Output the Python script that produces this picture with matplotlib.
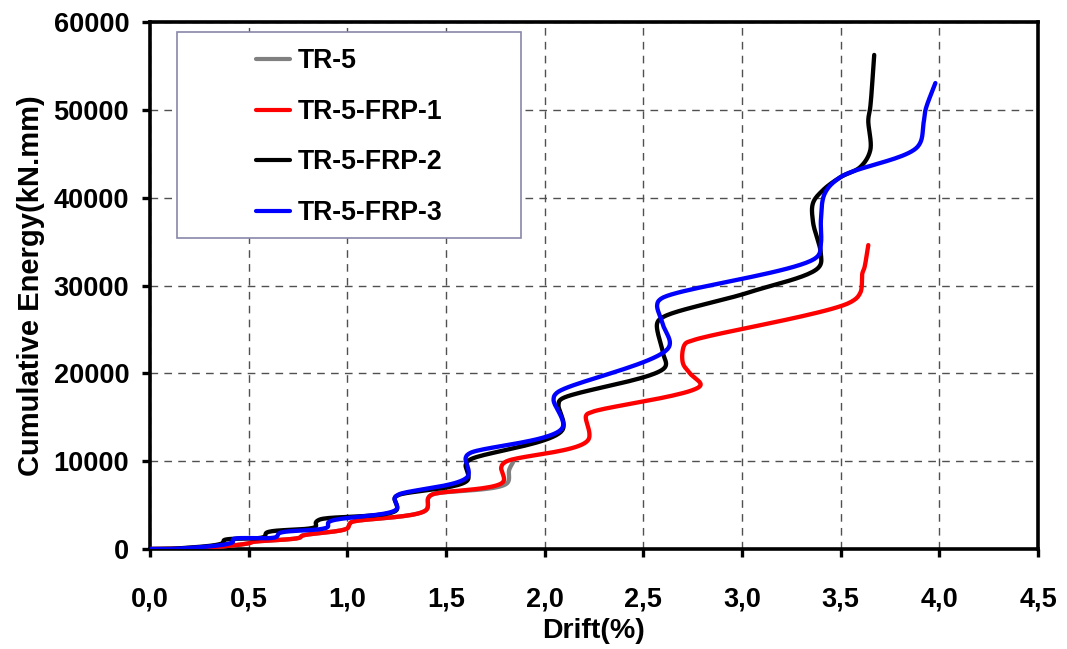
import numpy as np
import matplotlib
matplotlib.use("Agg")
import matplotlib.pyplot as plt
from matplotlib.patches import Rectangle

# Cumulative dissipated energy versus drift for the four specimens
drift_tr5 = [0.00, 0.15, 0.37, 0.50, 0.52, 0.76, 0.77, 1.00, 1.01, 1.02,
             1.40, 1.41, 1.43, 1.81, 1.82, 1.84]
energy_tr5 = [0, 30, 300, 650, 800, 1300, 1500, 2350, 2800, 3050,
              4450, 5800, 6200, 7500, 9000, 9900]

drift_frp1 = [0.00, 0.15, 0.37, 0.50, 0.52, 0.76, 0.77, 1.00, 1.01, 1.02,
              1.40, 1.41, 1.43, 1.79, 1.78, 1.80, 2.22, 2.21, 2.24,
              2.79, 2.74, 2.70, 2.71, 2.75, 3.55, 3.60, 3.61, 3.62, 3.64]
energy_frp1 = [0, 30, 300, 650, 800, 1300, 1500, 2350, 2800, 3050,
               4450, 5800, 6200, 7650, 9300, 9900, 12400, 15200, 15600,
               18650, 19900, 21200, 23300, 23750, 28100, 29200, 31400, 32000, 34600]

drift_frp2 = [0.00, 0.15, 0.37, 0.375, 0.58, 0.59, 0.84, 0.84, 0.86,
              1.25, 1.24, 1.26, 1.61, 1.60, 1.62, 2.09, 2.07, 2.08,
              2.61, 2.60, 2.57, 2.60, 3.04, 3.39, 3.40, 3.36, 3.36, 3.41,
              3.50, 3.60, 3.65, 3.64, 3.65, 3.67]
energy_frp2 = [0, 80, 700, 1000, 1400, 1850, 2550, 3000, 3350,
               4450, 5800, 6150, 7850, 9600, 10150, 13550, 16400, 17000,
               20700, 22300, 25700, 26400, 29250, 32100, 33600, 37200, 39400, 40850,
               42350, 43500, 45400, 48850, 50300, 56250]

drift_frp3 = [0.00, 0.15, 0.42, 0.42, 0.64, 0.655, 0.90, 0.905, 1.25, 1.24,
              1.26, 1.61, 1.60, 1.62, 2.09, 2.045, 2.06, 2.63, 2.60, 2.57,
              2.59, 3.38, 3.40, 3.40, 3.42, 3.50, 3.89, 3.92, 3.93, 3.98]
energy_frp3 = [0, 50, 800, 1100, 1370, 1800, 2500, 3050, 4550, 5800,
               6200, 8250, 10400, 10900, 13800, 17000, 17750, 23000, 25500, 27800,
               28500, 33250, 34800, 37500, 40500, 42350, 45800, 48500, 50000, 53050]

series_names = ["TR-5", "TR-5-FRP-1", "TR-5-FRP-2", "TR-5-FRP-3"]
series_colors = ["#808080", "#ff0000", "#000000", "#0000ff"]

X_MAX, Y_MAX = 4.5, 60000
X_TICKS = np.arange(0, 4.51, 0.5)
Y_TICKS = np.arange(0, 60001, 10000)


def smooth_curve(xs, ys, sx, sy, n=24, alpha=0.5):
    """Centripetal Catmull-Rom through the points, computed in screen-like units."""
    P = np.column_stack([np.asarray(xs, float) * sx, np.asarray(ys, float) * sy])
    P = np.vstack([2 * P[0] - P[1], P, 2 * P[-1] - P[-2]])
    out = []
    eps = 1e-6
    for i in range(1, len(P) - 2):
        p0, p1, p2, p3 = P[i - 1], P[i], P[i + 1], P[i + 2]
        t0 = 0.0
        t1 = t0 + max(np.linalg.norm(p1 - p0), eps) ** alpha
        t2 = t1 + max(np.linalg.norm(p2 - p1), eps) ** alpha
        t3 = t2 + max(np.linalg.norm(p3 - p2), eps) ** alpha
        t = np.linspace(t1, t2, n)[:, None]
        a1 = (t1 - t) / (t1 - t0) * p0 + (t - t0) / (t1 - t0) * p1
        a2 = (t2 - t) / (t2 - t1) * p1 + (t - t1) / (t2 - t1) * p2
        a3 = (t3 - t) / (t3 - t2) * p2 + (t - t2) / (t3 - t2) * p3
        b1 = (t2 - t) / (t2 - t0) * a1 + (t - t0) / (t2 - t0) * a2
        b2 = (t3 - t) / (t3 - t1) * a2 + (t - t1) / (t3 - t1) * a3
        c = (t2 - t) / (t2 - t1) * b1 + (t - t1) / (t2 - t1) * b2
        out.append(c if i == 1 else c[1:])
    C = np.vstack(out)
    return C[:, 0] / sx, C[:, 1] / sy


plt.rcParams["font.family"] = ["Liberation Sans", "DejaVu Sans"]
plt.rcParams["font.weight"] = "bold"

fig = plt.figure(figsize=(10.67, 6.49), dpi=100)
ax = fig.add_axes([150 / 1067, 1 - 549 / 649, 888 / 1067, 527 / 649])

# scale factors so smoothing works in pixel-like units
sx = 888 / X_MAX
sy = 527 / Y_MAX

all_data = [(drift_tr5, energy_tr5), (drift_frp1, energy_frp1),
            (drift_frp2, energy_frp2), (drift_frp3, energy_frp3)]
for (dx, ey), name, col in zip(all_data, series_names, series_colors):
    xs, ys = smooth_curve(dx, ey, sx, sy)
    ax.plot(xs, ys, color=col, lw=3.1, label=name, solid_capstyle="round",
            solid_joinstyle="round", zorder=3)

ax.set_xlim(0, X_MAX)
ax.set_ylim(0, Y_MAX)
ax.set_xticks(X_TICKS)
ax.set_yticks(Y_TICKS)
ax.set_xticklabels([f"{v:.1f}".replace(".", ",") for v in X_TICKS])
ax.set_yticklabels([f"{int(v)}" for v in Y_TICKS])
ax.tick_params(axis="both", direction="out", length=6, width=2.4, labelsize=19.5)
ax.tick_params(axis="x", pad=21)
ax.tick_params(axis="y", pad=9)

ax.grid(True, color="#505050", lw=1.0, linestyle=(0, (5.5, 4.5)), zorder=1)
ax.set_axisbelow(True)
for sp in ax.spines.values():
    sp.set_linewidth(2.6)
    sp.set_color("black")

ax.set_xlabel("Drift(%)", fontsize=20.5, fontweight="bold", labelpad=4)
ax.set_ylabel("Cumulative Energy(kN.mm)", fontsize=21, fontweight="bold", labelpad=6)

# legend panel
box_x0 = (177 - 150) / 888
box_y0 = (549 - 238) / 527
box_w = (521 - 177) / 888
box_h = (238 - 32) / 527
ax.add_patch(Rectangle((box_x0, box_y0), box_w, box_h, transform=ax.transAxes,
                       facecolor="white", edgecolor="#8888aa", lw=1.2, zorder=5))
leg = ax.legend(loc="center", bbox_to_anchor=(box_x0 + box_w / 2, box_y0 + box_h / 2 - 0.004),
                frameon=False, fontsize=19.2, handlelength=1.3, handletextpad=0.28,
                labelspacing=0.92)
leg.set_zorder(6)
for h in leg.get_lines():
    h.set_linewidth(3.0)

fig.savefig("out.png", dpi=100)
